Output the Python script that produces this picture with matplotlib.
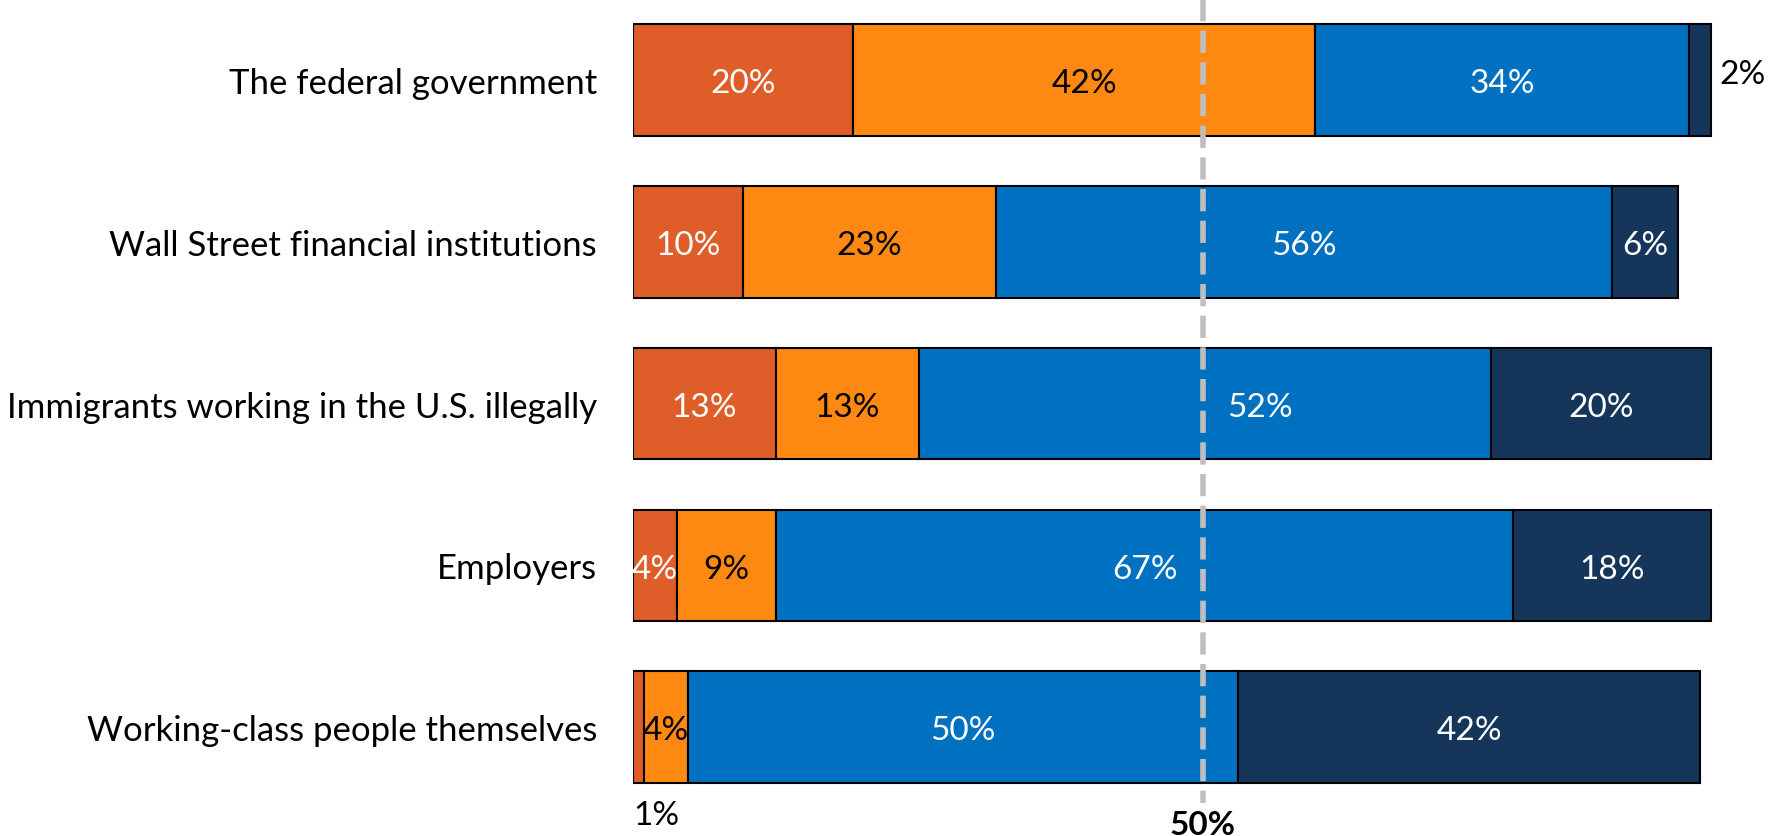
import matplotlib
matplotlib.use('Agg')
import matplotlib.pyplot as plt
import numpy as np

plt.rcParams['font.family'] = ['Lato', 'DejaVu Sans']

# ---------------------------------------------------------------------------
# Data
# ---------------------------------------------------------------------------
categories = [
    "The federal government",
    "Wall Street financial institutions",
    "Immigrants working in the U.S. illegally",
    "Employers",
    "Working-class people themselves",
]
seg_a = [20, 10, 13, 4, 1]     # dark orange
seg_b = [42, 23, 13, 9, 4]     # orange
seg_c = [34, 56, 52, 67, 50]   # blue
seg_d = [2, 6, 20, 18, 42]     # navy
ref_value = 51.8               # dashed reference line position
ref_label = "50%"

colors = ['#DF5D29', '#FD8912', '#0070C0', '#15365A']
text_colors = ['white', 'black', 'white', 'white']

# ---------------------------------------------------------------------------
# Figure
# ---------------------------------------------------------------------------
W, H = 1781, 837
fig = plt.figure(figsize=(W / 100, H / 100), dpi=100)
left_px, px_per_pct = 633, 11.0
ax = fig.add_axes([left_px / W, 0, 100 * px_per_pct / W, 1])

row_top, row_step = 81, 161.8
ax.set_xlim(0, 100)
ax.set_ylim((H - row_top) / row_step, -row_top / row_step)

y = np.arange(len(categories))
segments = [seg_a, seg_b, seg_c, seg_d]
left = np.zeros(len(categories))
for k, vals in enumerate(segments):
    vals = np.array(vals, dtype=float)
    ax.barh(y, vals, left=left, height=0.69, color=colors[k],
            edgecolor='black', linewidth=1.5, zorder=2)
    for i, v in enumerate(vals):
        cx = left[i] + v / 2
        if v <= 1:
            # tiny slice: label beneath the bar
            ax.text(left[i], y[i] + 0.54, f"{v:.0f}%", ha='left', va='center',
                    fontsize=24, color='black')
        elif v <= 2 and k == 3:
            ax.text(left[i] + v + 0.8, y[i] - 0.04, f"{v:.0f}%", ha='left',
                    va='center', fontsize=24, color='black')
        else:
            # nudge a label off the dashed line when it would sit on it
            if abs(cx - ref_value) < 3:
                cx += 5
            ax.text(cx, y[i] + 0.02, f"{v:.0f}%", ha='center', va='center',
                    fontsize=24, color=text_colors[k], zorder=4)
    left += vals

# dashed reference line
y_lo, y_hi = ax.get_ylim()
ax.plot([ref_value, ref_value], [y_hi, 4.47], color='#BFBFBF',
        linestyle=(0, (4, 1.7)), linewidth=4, zorder=3)
ax.text(ref_value, 4.66, ref_label, ha='center', va='baseline', fontsize=24,
        fontweight='bold', color='black')

ax.set_yticks(y)
ax.set_yticklabels(categories, fontsize=25)
ax.tick_params(axis='y', length=0, pad=26)
ax.set_xticks([])
for s in ax.spines.values():
    s.set_visible(False)

fig.savefig('out.png', dpi=100)
